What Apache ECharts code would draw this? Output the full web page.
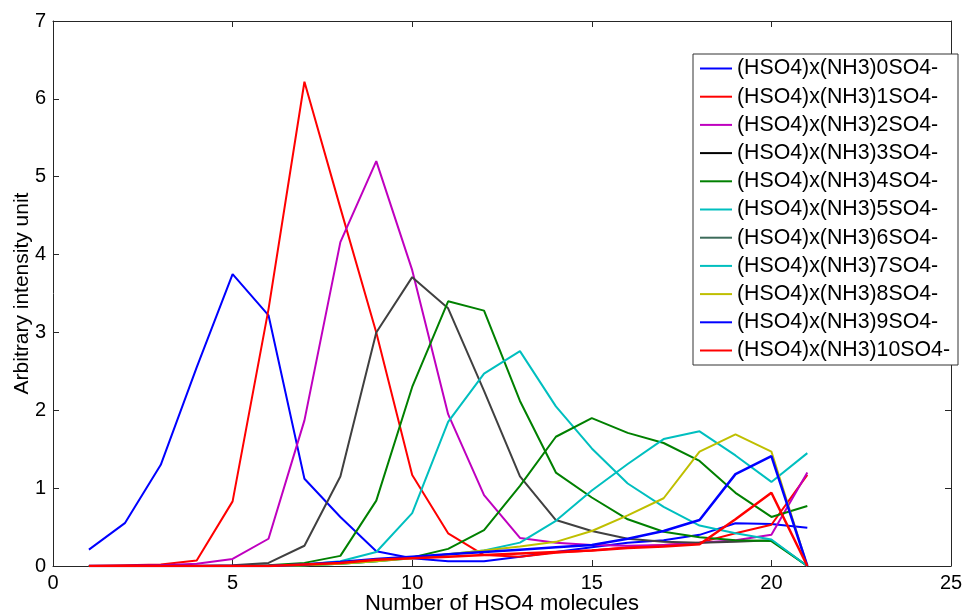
<!DOCTYPE html>
<html>
<head>
<meta charset="utf-8">
<script src="https://cdn.jsdelivr.net/npm/echarts@6/dist/echarts.min.js"></script>
<style>
html,body{margin:0;padding:0;background:#fff;}
#chart{width:964px;height:614px;}
</style>
</head>
<body>
<div id="chart"></div>
<script>
// x values: number of HSO4 molecules
var xValues = [1,2,3,4,5,6,7,8,9,10,11,12,13,14,15,16,17,18,19,20,21];

var seriesNames = [
  "(HSO4)x(NH3)0SO4-","(HSO4)x(NH3)1SO4-","(HSO4)x(NH3)2SO4-","(HSO4)x(NH3)3SO4-",
  "(HSO4)x(NH3)4SO4-","(HSO4)x(NH3)5SO4-","(HSO4)x(NH3)6SO4-","(HSO4)x(NH3)7SO4-",
  "(HSO4)x(NH3)8SO4-","(HSO4)x(NH3)9SO4-","(HSO4)x(NH3)10SO4-"
];

var nh3_0  = [0.21,0.55,1.3,2.55,3.75,3.22,1.12,0.63,0.19,0.1,0.06,0.06,0.12,0.18,0.24,0.3,0.33,0.4,0.55,0.54,0.49];
var nh3_1  = [0,0.01,0.02,0.07,0.83,3.3,6.22,4.6,3.0,1.17,0.42,0.14,0.12,0.17,0.2,0.24,0.27,0.3,0.42,0.53,1.17];
var nh3_2  = [0,0,0.01,0.03,0.09,0.35,1.87,4.16,5.2,3.8,1.95,0.91,0.36,0.3,0.27,0.26,0.27,0.3,0.33,0.4,1.2];
var nh3_3  = [0,0,0,0,0.01,0.04,0.26,1.15,3.0,3.71,3.31,2.25,1.15,0.59,0.45,0.35,0.31,0.3,0.31,0.33,0.0];
var nh3_4  = [0,0,0,0,0,0.01,0.04,0.13,0.84,2.3,3.4,3.28,2.12,1.2,0.88,0.6,0.44,0.37,0.33,0.32,0.0];
var nh3_5  = [0,0,0,0,0,0,0.02,0.06,0.18,0.68,1.85,2.47,2.76,2.05,1.51,1.06,0.76,0.52,0.42,0.34,0.0];
var nh3_6  = [0,0,0,0,0,0,0.01,0.03,0.06,0.11,0.22,0.46,1.03,1.66,1.9,1.71,1.58,1.35,0.94,0.63,0.77];
var nh3_7  = [0,0,0,0,0,0,0.01,0.03,0.06,0.1,0.15,0.2,0.3,0.58,0.97,1.31,1.63,1.73,1.42,1.08,1.45];
var nh3_8  = [0,0,0,0,0,0,0.01,0.03,0.06,0.1,0.15,0.2,0.25,0.31,0.45,0.65,0.87,1.47,1.69,1.47,0.0];
var nh3_9  = [0,0,0,0,0,0,0.02,0.05,0.09,0.12,0.15,0.18,0.21,0.24,0.27,0.35,0.45,0.59,1.18,1.41,0.0];
var nh3_10 = [0,0,0,0,0,0,0.02,0.04,0.08,0.1,0.12,0.14,0.16,0.18,0.2,0.23,0.25,0.28,0.6,0.94,0.0];

var seriesValues = [nh3_0,nh3_1,nh3_2,nh3_3,nh3_4,nh3_5,nh3_6,nh3_7,nh3_8,nh3_9,nh3_10];

var lineColors   = ["#0000FF","#FF0000","#BF00BF","#404040","#008000","#00BFBF","#008000","#00BFBF","#BFBF00","#0000FF","#FF0000"];
var legendColors = ["#0000FF","#FF0000","#BF00BF","#000000","#008000","#00BFBF","#3C6B5A","#00BFBF","#BFBF00","#0000FF","#FF0000"];
var lineWidths   = [2,2,2,2,2,2,2,2,2,2.5,2.5];

var xTicks = {min:0, max:25, interval:5};
var yTicks = {min:0, max:7, interval:1};

var FONT = "Liberation Sans, Arial, sans-serif";
var axisCol = "#262626";

var series = seriesNames.map(function(name, i){
  return {
    name: name,
    type: 'line',
    symbol: 'none',
    animation: false,
    data: xValues.map(function(x, j){ return [x, seriesValues[i][j]]; }),
    lineStyle: {color: lineColors[i], width: lineWidths[i]},
    itemStyle: {color: lineColors[i]},
    z: 2 + i
  };
});

function axisBase(extra){
  var o = {
    axisLine: {show: true, onZero: false, lineStyle: {color: axisCol, width: 1}},
    axisTick: {show: true, inside: true, length: 6, lineStyle: {color: axisCol}},
    splitLine: {show: false}
  };
  for (var k in extra) o[k] = extra[k];
  return o;
}

var chart = echarts.init(document.getElementById('chart'), null, {renderer: 'canvas'});
chart.setOption({
  backgroundColor: '#ffffff',
  animation: false,
  textStyle: {fontFamily: FONT},
  grid: {left: 53, right: 13, top: 21, bottom: 48, containLabel: false, outerBoundsMode: 'none'},
  legend: {
    show: true,
    orient: 'vertical',
    left: 693,
    top: 54,
    padding: [4, 8, 4, 7],
    itemWidth: 32,
    itemHeight: 20,
    itemGap: 7.2,
    backgroundColor: '#ffffff',
    borderColor: '#333333',
    borderWidth: 1,
    textStyle: {fontFamily: FONT, fontSize: 21.3, color: '#000', lineHeight: 20},
    data: seriesNames.map(function(n, i){
      return {name: n, icon: 'path://M0,0 L32,0 L32,2 L0,2 Z', itemStyle: {color: legendColors[i]}};
    })
  },
  xAxis: [
    axisBase({
      type: 'value', position: 'bottom',
      min: xTicks.min, max: xTicks.max, interval: xTicks.interval,
      name: 'Number of HSO4 molecules', nameLocation: 'middle', nameGap: 27,
      nameMoveOverlap: false,
      nameTextStyle: {fontFamily: FONT, fontSize: 22, color: '#000'},
      axisLabel: {fontFamily: FONT, fontSize: 20, color: '#000', margin: 7}
    }),
    axisBase({
      type: 'value', position: 'top',
      min: xTicks.min, max: xTicks.max, interval: xTicks.interval,
      axisLabel: {show: false}
    })
  ],
  yAxis: [
    axisBase({
      type: 'value', position: 'left',
      min: yTicks.min, max: yTicks.max, interval: yTicks.interval,
      name: 'Arbitrary intensity unit', nameLocation: 'middle', nameGap: 20,
      nameMoveOverlap: false,
      nameTextStyle: {fontFamily: FONT, fontSize: 21, color: '#000'},
      axisLabel: {fontFamily: FONT, fontSize: 20, color: '#000', margin: 7}
    }),
    axisBase({
      type: 'value', position: 'right',
      min: yTicks.min, max: yTicks.max, interval: yTicks.interval,
      axisLabel: {show: false}
    })
  ],
  series: series
});
</script>
</body>
</html>
